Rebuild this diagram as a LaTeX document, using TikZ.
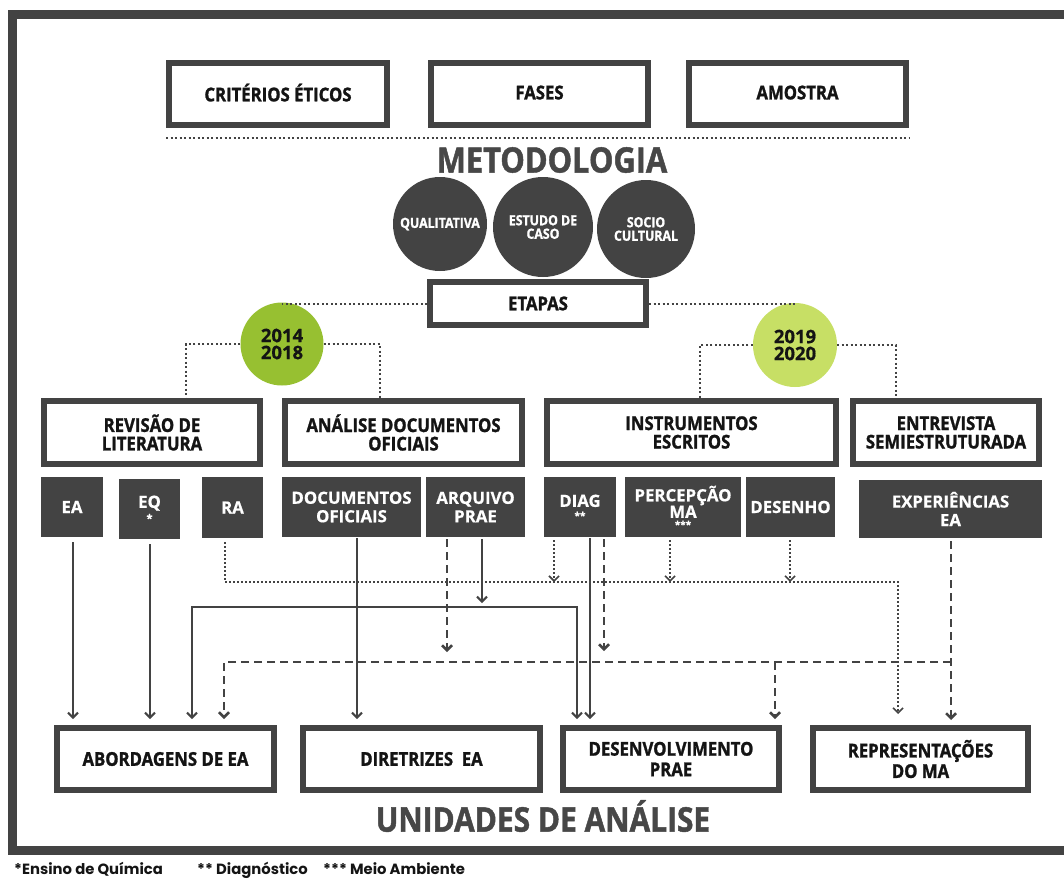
\documentclass[tikz,border=0pt]{standalone}
\usepackage{fontspec}
\setmainfont{Open Sans}[BoldFeatures={FakeBold=0.6}]
\newfontfamily\condf{Open Sans}[FakeStretch=0.88, BoldFeatures={FakeBold=1.3}]
\newfontfamily\poppf{Poppins}
\usetikzlibrary{arrows.meta}
\definecolor{dk}{HTML}{434343}
\definecolor{txt}{HTML}{141414}
\definecolor{ttl}{HTML}{474747}
\definecolor{gA}{HTML}{97C031}
\definecolor{gB}{HTML}{C7DF65}
\begin{document}
\begin{tikzpicture}[x=1pt,y=-1pt,
 wbox/.style={draw=dk, line width=6pt, fill=white, inner sep=0pt, align=center, text=txt,
   font=\condf\bfseries\fontsize{19}{18.5}\selectfont},
 dbox/.style={fill=dk, inner sep=0pt, align=center, text=white,
   font=\bfseries\fontsize{16.8}{18.5}\selectfont},
 dcirc/.style={circle, fill=dk, inner sep=0pt, align=center, text=white,
   font=\condf\bfseries\fontsize{14}{13.5}\selectfont},
 gcirc/.style={circle, inner sep=0pt, align=center, text=txt,
   font=\bfseries\fontsize{18.5}{17}\selectfont},
 ttlstyle/.style={text=ttl, font=\condf\bfseries\fontsize{35}{38}\selectfont, inner sep=0pt},
 tip/.style={-{Straight Barb[length=5pt,width=10pt]}},
 sol/.style={draw=dk, line width=2pt},
 dsh/.style={draw=dk, line width=2.5pt, dash pattern=on 8pt off 5pt},
 dotc/.style={draw=dk, line width=1.6pt, dash pattern=on 1.6pt off 2.4pt},
 dotg/.style={draw=dk, line width=2pt, dash pattern=on 2pt off 2.5pt},
 fnote/.style={anchor=base west, inner sep=0pt, text=txt, font=\poppf\bfseries\fontsize{14.8}{15}\selectfont},
]
\useasboundingbox (0,0) rectangle (1064,881);
\clip (0,0) rectangle (1064,881);
\fill[white] (0,0) rectangle (1064,881);

% frame
\draw[dk, line width=9pt, line join=miter] (1080,14.5) -- (12.5,14.5) -- (12.5,850.5) -- (1080,850.5);

% top boxes
\node[wbox, minimum width=218pt, minimum height=62pt] (crit) at (278,94) {\raisebox{3pt}{CRITÉRIOS ÉTICOS}};
\node[wbox, minimum width=217pt, minimum height=62pt] (fases) at (539.5,94) {\raisebox{3pt}{FASES}};
\node[wbox, minimum width=217pt, minimum height=62pt] (amos) at (797.5,94) {\raisebox{3pt}{AMOSTRA}};
\coordinate (sepL) at (166,138);
\coordinate (sepR) at (909,138);
\draw[dk, line width=2.6pt, dash pattern=on 2.2pt off 2.3pt] (sepL) -- (sepR);

\node[ttlstyle] (met) at (552,160) {METODOLOGIA};

\node[dcirc, minimum size=94pt] (qual) at (440,224) {QUALITATIVA};
\node[dcirc, minimum size=100pt] (est) at (543,227) {ESTUDO DE\\CASO};
\node[dcirc, minimum size=98pt] (soc) at (646,229) {SOCIO\\CULTURAL};

\node[wbox, minimum width=216pt, minimum height=43pt] (etapas) at (538,303.5) {ETAPAS};

\node[gcirc, fill=gA, minimum size=83pt] (g1) at (282,344) {2014\\2018};
\node[gcirc, fill=gB, minimum size=84pt] (g2) at (795,345) {2019\\2020};

% row 2
\node[wbox, minimum width=216pt, minimum height=63pt] (rev) at (152,432.5) {REVISÃO DE\\LITERATURA};
\node[wbox, minimum width=237pt, minimum height=63pt] (ana) at (403.5,432.5) {ANÁLISE DOCUMENTOS\\OFICIAIS};
\node[wbox, minimum width=289pt, minimum height=63pt] (ins) at (691.5,432.5) {INSTRUMENTOS\\ESCRITOS};
\node[wbox, minimum width=186pt, minimum height=63pt] (ent) at (946,432.5) {ENTREVISTA\\SEMIESTRUTURADA};

% dotted links from ETAPAS and circles
\coordinate (xr1) at (186,0);
\coordinate (xr2) at (380,0);
\coordinate (xr3) at (700,0);
\coordinate (xr4) at (896,0);
\draw[dotg] (etapas.west) -- (etapas.west -| g1.north);
\draw[dotg] (etapas.east) -- (etapas.east -| g2.north);
\draw[dotg] (g1.west) -| (rev.north -| xr1);
\draw[dotg] (g1.east) -| (ana.north -| xr2);
\draw[dotg] (g2.west) -| (ins.north -| xr3);
\draw[dotg] (g2.east) -| (ent.north -| xr4);

% row 3
\node[dbox, minimum width=62pt, minimum height=60pt] (ea) at (72,507) {EA};
\node[dbox, minimum width=61pt, minimum height=60pt] (eq) at (149.5,509) {EQ\\[-4pt]{\fontsize{11}{11}\selectfont *}};
\node[dbox, minimum width=61pt, minimum height=61pt] (ra) at (232.5,507.5) {RA};
\node[dbox, minimum width=139pt, minimum height=60pt] (doc) at (351.5,507) {DOCUMENTOS\\OFICIAIS};
\node[dbox, minimum width=99pt, minimum height=60pt] (arq) at (475.5,507) {ARQUIVO\\PRAE};
\node[dbox, minimum width=72pt, minimum height=60pt] (diag) at (580,507) {DIAG\\[-6pt]{\fontsize{10}{10}\selectfont **}};
\node[dbox, minimum width=116pt, minimum height=60pt] (perc) at (683,507) {PERCEPÇÃO\\[-2pt]MA\\[-8pt]{\fontsize{10}{10}\selectfont ***}};
\node[dbox, minimum width=89pt, minimum height=60pt] (des) at (790.5,507) {DESENHO};
\node[dbox, minimum width=183pt, minimum height=58pt] (exp) at (950.5,509) {EXPERIÊNCIAS\\EA};

% bottom
\node[wbox, minimum width=217pt, minimum height=62pt] (abo) at (165.5,759) {ABORDAGENS DE EA};
\node[wbox, minimum width=237pt, minimum height=62pt] (dir) at (421.5,759) {DIRETRIZES\ \ EA};
\node[wbox, minimum width=216pt, minimum height=62pt] (dev) at (671,759) {DESENVOLVIMENTO\\[2pt]PRAE};
\node[wbox, minimum width=215pt, minimum height=62pt] (rep) at (920.5,759) {REPRESENTAÇÕES\\[2pt]DO MA};

\node[ttlstyle, font=\condf\bfseries\fontsize{34}{36}\selectfont] (uni) at (543,816) {UNIDADES DE ANÁLISE};

% connector coordinates
\coordinate (xA) at (73,0);
\coordinate (xB) at (150,0);
\coordinate (xC) at (357,0);
\coordinate (xD) at (482,0);
\coordinate (xE) at (447,0);
\coordinate (xF) at (192,0);
\coordinate (xG) at (577,0);
\coordinate (xH) at (590,0);
\coordinate (xI) at (604,0);
\coordinate (xJ) at (224,0);
\coordinate (xK) at (775,0);
\coordinate (xL) at (951,0);
\coordinate (xM) at (225,0);
\coordinate (xN) at (898,0);
\coordinate (xO) at (554,0);
\coordinate (xP) at (670,0);
\coordinate (xQ) at (790,0);
\coordinate (yS) at (0,607);
\coordinate (yD) at (0,662);
\coordinate (yT) at (0,582);

% solid
\draw[sol, tip, shorten <=5pt, shorten >=6pt] (ea.south -| xA) -- (abo.north -| xA);
\draw[sol, tip, shorten <=5pt, shorten >=6pt] (eq.south -| xB) -- (abo.north -| xB);
\draw[sol, tip, shorten <=1pt, shorten >=6pt] (doc.south -| xC) -- (dir.north -| xC);
\draw[sol, tip, shorten <=2pt, shorten >=4pt] (arq.south -| xD) -- (xD |- yS);
\draw[sol, {Straight Barb[length=5pt,width=10pt]}-{Straight Barb[length=5pt,width=10pt]}, shorten <=6pt, shorten >=6pt]
  (abo.north -| xF) -- (xF |- yS) -- (xG |- yS) -- (dev.north -| xG);
\draw[sol, tip, shorten <=1pt, shorten >=6pt] (diag.south -| xH) -- (dev.north -| xH);

% dashed
\draw[dsh, tip, shorten <=2pt, shorten >=10pt] (arq.south -| xE) -- (xE |- yD);
\draw[dsh, tip, shorten <=2pt, shorten >=11pt] (diag.south -| xI) -- (xI |- yD);
\draw[dsh, tip, shorten >=6pt] (xL |- yD) -- (xJ |- yD) -- (abo.north -| xJ);
\draw[dsh, tip, shorten >=6pt] (xK |- yD) -- (dev.north -| xK);
\draw[dsh, tip, shorten <=3pt, shorten >=5pt] (exp.south -| xL) -- (rep.north -| xL);

% dotted
\draw[dotc, tip, shorten <=4pt, shorten >=11pt] (ra.south -| xM) -- (xM |- yT) -- (xN |- yT) -- (rep.north -| xN);
\draw[dotc, tip, shorten <=3pt] (diag.south -| xO) -- (xO |- yT);
\draw[dotc, tip, shorten <=3pt] (perc.south -| xP) -- (xP |- yT);
\draw[dotc, tip, shorten <=3pt] (des.south -| xQ) -- (xQ |- yT);

% footnote
\node[fnote] (fn1) at (14,874) {*Ensino de Química};
\node[fnote] (fn2) at (197,874) {** Diagnóstico};
\node[fnote] (fn3) at (323,874) {*** Meio Ambiente};
\end{tikzpicture}
\end{document}
